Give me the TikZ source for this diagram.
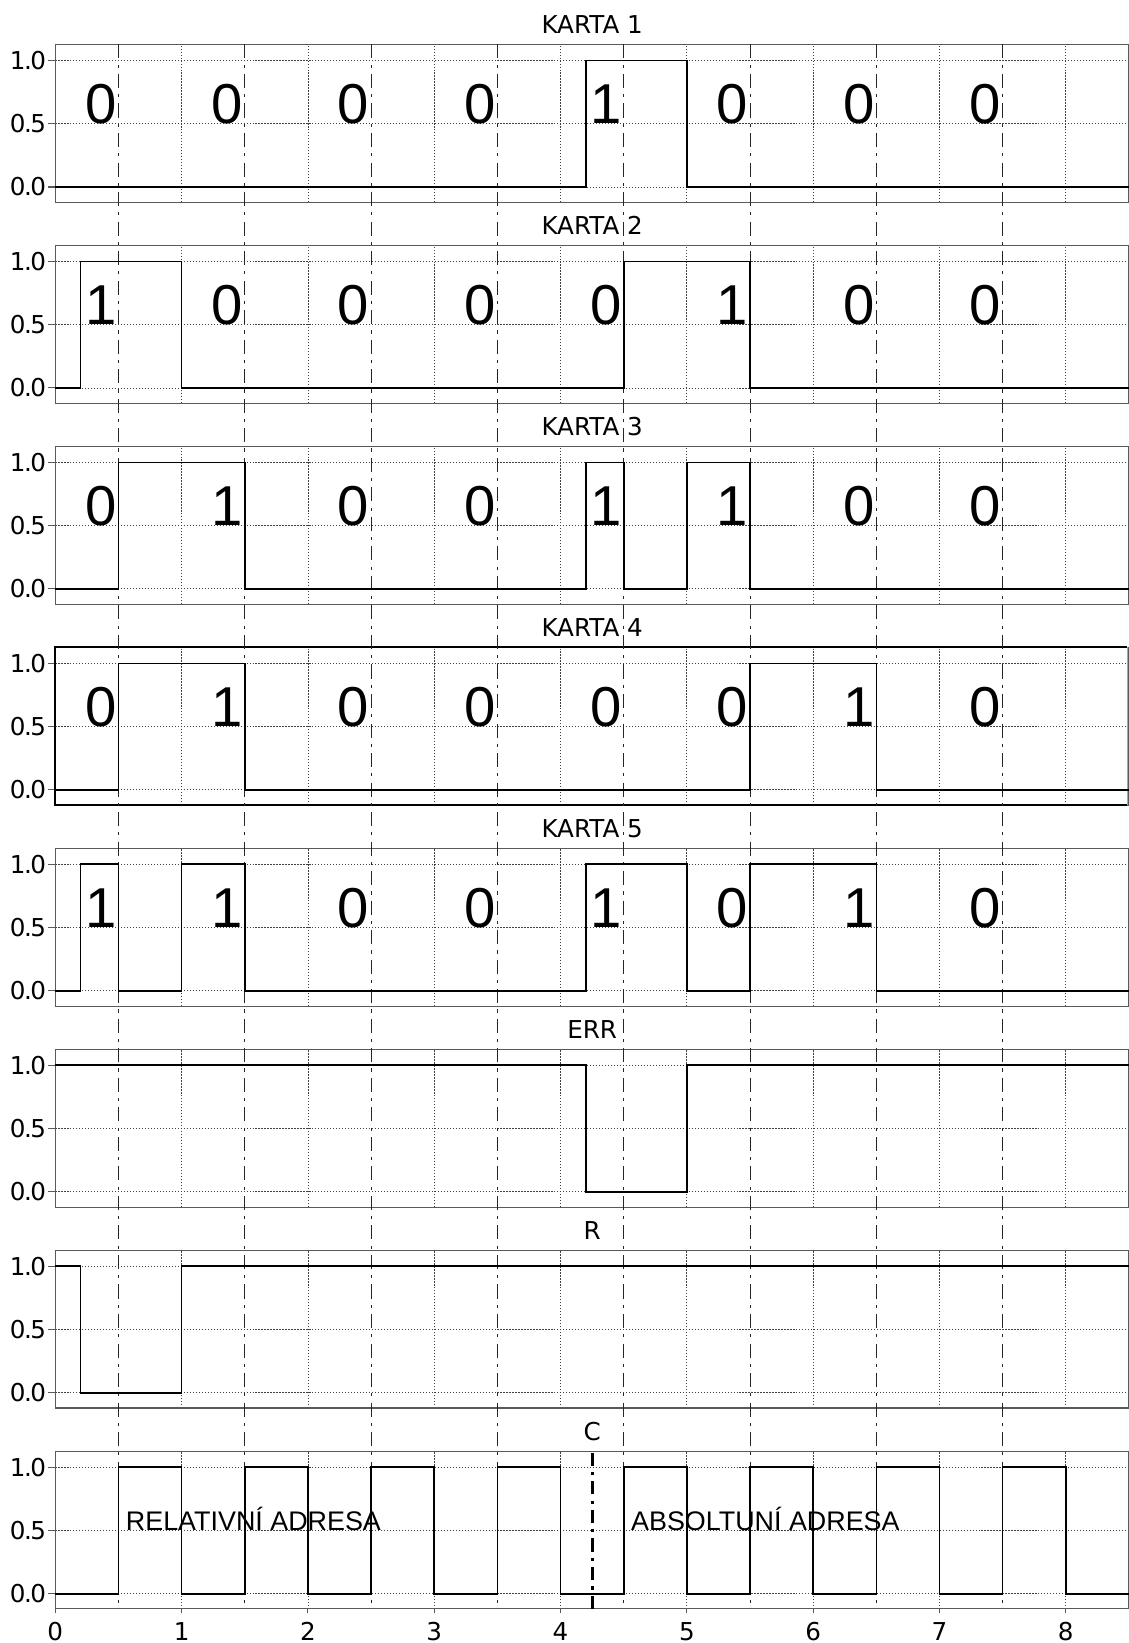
\documentclass[tikz,border=0pt]{standalone}
\usepackage{fontspec}
\setmainfont{Liberation Sans}
\newfontfamily\bitfont{Liberation Sans}
\newfontfamily\axfont{DejaVu Sans}
\newfontfamily\tickfont[LetterSpace=-6]{DejaVu Sans}

\begin{document}
\begin{tikzpicture}[x=2.526cm,y=2.532cm,
  frame/.style={draw=black!65,line width=0.6pt},
  gridline/.style={black!75,line width=0.5pt,dash pattern=on 0.7pt off 1pt},
  halfline/.style={black!85,line width=0.55pt,dash pattern=on 8pt off 3.5pt on 1.8pt off 3.5pt},
  signal/.style={line width=0.9pt},
  title/.style={anchor=base,font=\axfont\fontsize{14}{16}\selectfont},
  ticklab/.style={font=\tickfont\fontsize{14}{16}\selectfont},
  bit/.style={anchor=base,font=\bitfont\fontsize{32}{36}\selectfont},
  note/.style={anchor=base west,font=\bitfont\fontsize{15.3}{18}\selectfont}]
\useasboundingbox (-0.438,-11.5) rectangle (8.493,1.477);

% axes of the eight panels
\foreach \t [count=\i from 0] in {KARTA 1,KARTA 2,KARTA 3,KARTA 4,KARTA 5,ERR,R,C}{
\begin{scope}[shift={(0,-1.5873*\i)}]
\foreach \gx in {1,...,8} \draw[gridline] (\gx,-0.12) -- (\gx,1.126);
\foreach \gy/\lab [count=\m] in {0/0.0,0.5/0.5,1/1.0}{
  \draw[gridline] (0,\gy) -- (8.5,\gy);
  \draw[frame] (-0.055,\gy) -- (0,\gy);
  \node[ticklab,anchor=east,inner sep=0pt] (ylab\i\m) at (-0.07,\gy) {\lab};
}
\draw[frame] (0,-0.12) rectangle (8.5,1.126);
\node[title] (title\i) at (4.25,1.214) {\t};
\end{scope}}

% KARTA 4 has a black frame
\begin{scope}[shift={(0,-1.5873*3)}]
\draw[line width=1.1pt] (8.487,1.126) -- (0,1.126) -- (0,-0.12) -- (8.487,-0.12);
\draw[black!35,line width=0.6pt] (8.487,1.126) -- (8.487,-0.12);
\end{scope}

% bit boundaries
\foreach \hx in {0.5,1.5,...,7.5}
  \draw[halfline] (\hx,1.126) -- (\hx,-11.231);

% KARTA 1
\draw[signal] (0,0) -| (4.2,1) -| (5,0) -- (8.5,0);
\foreach \b [count=\j from 0] in {0,0,0,0,1,0,0,0}
  \node[bit] (k1b\j) at (\j+0.36,0.5) {\b};

\begin{scope}[shift={(0,-1.5873)}]
\draw[signal] (0,0) -| (0.2,1) -| (1,0) -| (4.5,1) -| (5.5,0) -- (8.5,0);
\foreach \b [count=\j from 0] in {1,0,0,0,0,1,0,0}
  \node[bit] (k2b\j) at (\j+0.36,0.5) {\b};
\end{scope}

\begin{scope}[shift={(0,-1.5873*2)}]
\draw[signal] (0,0) -| (0.5,1) -| (1.5,0) -| (4.2,1) -| (4.5,0) -| (5,1) -| (5.5,0) -- (8.5,0);
\foreach \b [count=\j from 0] in {0,1,0,0,1,1,0,0}
  \node[bit] (k3b\j) at (\j+0.36,0.5) {\b};
\end{scope}

\begin{scope}[shift={(0,-1.5873*3)}]
\draw[signal] (0,0) -| (0.5,1) -| (1.5,0) -| (5.5,1) -| (6.5,0) -- (8.5,0);
\foreach \b [count=\j from 0] in {0,1,0,0,0,0,1,0}
  \node[bit] (k4b\j) at (\j+0.36,0.5) {\b};
\end{scope}

\begin{scope}[shift={(0,-1.5873*4)}]
\draw[signal] (0,0) -| (0.2,1) -| (0.5,0) -| (1,1) -| (1.5,0) -| (4.2,1) -| (5,0) -| (5.5,1) -| (6.5,0) -- (8.5,0);
\foreach \b [count=\j from 0] in {1,1,0,0,1,0,1,0}
  \node[bit] (k5b\j) at (\j+0.36,0.5) {\b};
\end{scope}

% ERR
\begin{scope}[shift={(0,-1.5873*5)}]
\draw[signal] (0,1) -| (4.2,0) -| (5,1) -- (8.5,1);
\end{scope}

% R
\begin{scope}[shift={(0,-1.5873*6)}]
\draw[signal] (0,1) -| (0.2,0) -| (1,1) -- (8.5,1);
\end{scope}

% C
\begin{scope}[shift={(0,-1.5873*7)}]
\draw[signal] (0,0) \foreach \k in {0,...,7}{ -| (\k+0.5,1) -| (\k+1,0)} -- (8.5,0);
\draw[line width=1.8pt,dash pattern=on 7.5pt off 3.5pt on 1.8pt off 3.5pt] (4.25,-0.12) -- (4.25,1.126);
\node[note] (rel) at (0.51,0.5) {RELATIVNÍ ADRESA};
\node[note] (abs) at (4.51,0.5) {ABSOLTUNÍ ADRESA};
\foreach \gx in {0,...,8}{
  \draw[frame] (\gx,-0.12) -- (\gx,-0.15);
  \node[ticklab,anchor=base] (xlab\gx) at (\gx,-0.366) {\gx};
}
\end{scope}
\end{tikzpicture}
\end{document}
